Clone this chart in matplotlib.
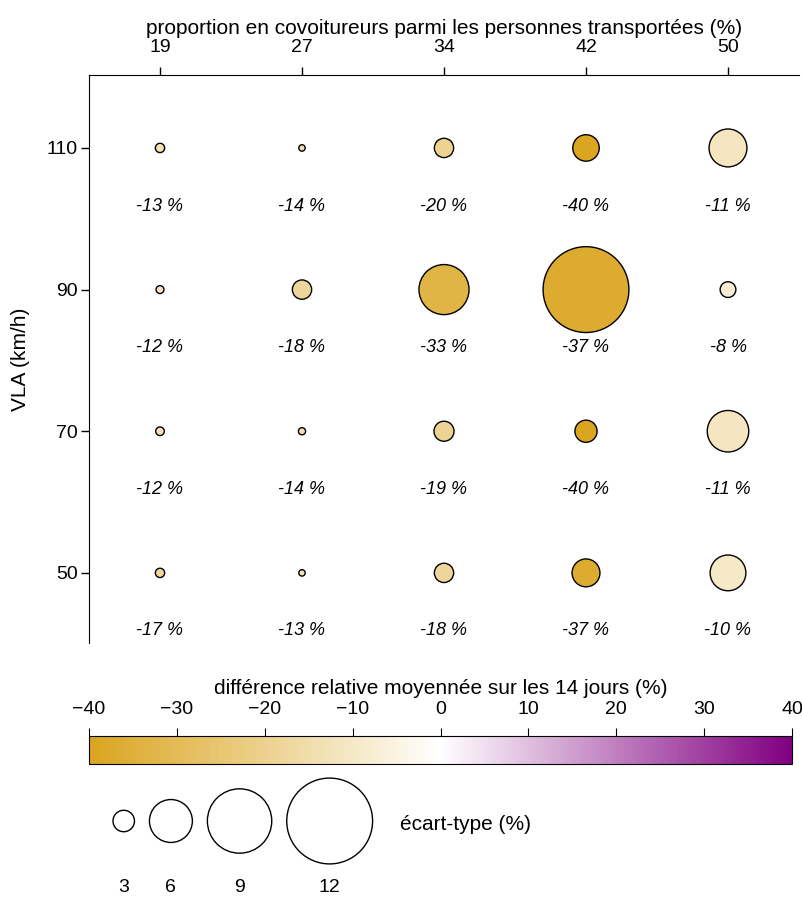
import matplotlib
matplotlib.use('Agg')
import matplotlib.pyplot as plt
import numpy as np
from matplotlib.colors import LinearSegmentedColormap, Normalize
from matplotlib.colorbar import ColorbarBase

plt.rcParams['font.family'] = ['Liberation Sans', 'DejaVu Sans']
fs_tick = 14
fs_lab = 15

# data
proportion = ['19', '27', '34', '42', '50']
vla = [110, 90, 70, 50]
# mean relative difference (%), one row per VLA
diff = [[-13, -14, -20, -40, -11],
        [-12, -18, -33, -37, -8],
        [-12, -14, -19, -40, -11],
        [-17, -13, -18, -37, -10]]
# standard deviation (%)
std = [[1.3, 0.9, 2.7, 3.7, 5.3],
       [1.1, 2.7, 7.0, 12.0, 2.2],
       [1.2, 1.0, 2.8, 3.1, 5.8],
       [1.3, 0.9, 2.7, 3.9, 5.0]]
legend_std = [3, 6, 9, 12]

cmap = LinearSegmentedColormap.from_list('gw_p', ['#DAA520', 'white', '#800080'])
norm = Normalize(-40, 40)
pt_per_unit = 5.15  # marker diameter in points per std unit

W, H = 802, 898
fig = plt.figure(figsize=(W / 100, H / 100), dpi=100)
ax = fig.add_axes([89 / W, (H - 643) / H, 710 / W, 568 / H])

xx, yy = np.meshgrid(np.arange(len(proportion)), vla)
d = np.array(diff)
s = np.array(std)
ax.scatter(xx.ravel(), yy.ravel(), s=(s.ravel() * pt_per_unit) ** 2, marker='o',
           c=d.ravel(), cmap=cmap, norm=norm, edgecolors='black', linewidths=1, zorder=3)
for xi, yi, di in zip(xx.ravel(), yy.ravel(), d.ravel()):
    ax.text(xi, yi - 8.2, f'{di} %', ha='center', va='center', style='italic', fontsize=13)

ax.set_xlim(-0.5, 4.5)
ax.set_ylim(40.1, 120.3)
ax.xaxis.tick_top()
ax.xaxis.set_label_position('top')
ax.set_xticks(range(len(proportion)))
ax.set_xticklabels(proportion, fontsize=fs_tick)
ax.set_yticks(vla)
ax.set_yticklabels([str(v) for v in vla], fontsize=fs_tick)
ax.set_xlabel('proportion en covoitureurs parmi les personnes transportées (%)', fontsize=fs_lab, labelpad=3)
ax.set_ylabel('VLA (km/h)', fontsize=fs_lab, labelpad=12)
ax.spines['right'].set_visible(False)
ax.spines['bottom'].set_visible(False)
ax.tick_params(axis='y', length=6, width=1, pad=2)
ax.tick_params(axis='x', length=6, width=1, pad=8)

# colorbar
cax = fig.add_axes([89 / W, (H - 764) / H, 703 / W, 28 / H])
cb = ColorbarBase(cax, cmap=cmap, norm=norm, orientation='horizontal')
cax.xaxis.tick_top()
cax.xaxis.set_label_position('top')
cb.set_ticks(np.arange(-40, 41, 10))
cax.tick_params(labelsize=fs_tick, length=6, pad=7)
cb.set_label('différence relative moyennée sur les 14 jours (%)', fontsize=fs_lab, labelpad=5)

# size legend
lax = fig.add_axes([89 / W, 0, 708 / W, 123 / H])
lax.set_xlim(0, 708)
lax.set_ylim(0, 123)
lax.axis('off')
diam_px = np.array(legend_std) * pt_per_unit * 100 / 72
cx = 24 + np.cumsum(diam_px) - diam_px / 2 + 15 * np.arange(len(legend_std))
lax.scatter(cx, [77] * len(cx), s=(np.array(legend_std) * pt_per_unit) ** 2, marker='o',
            facecolors='white', edgecolors='black', linewidths=1)
for x, v in zip(cx, legend_std):
    lax.text(x, 10, str(v), ha='center', va='center', fontsize=fs_tick)
lax.text(311, 73, 'écart-type (%)', ha='left', va='center', fontsize=fs_lab)

fig.savefig('out.png', dpi=100)
